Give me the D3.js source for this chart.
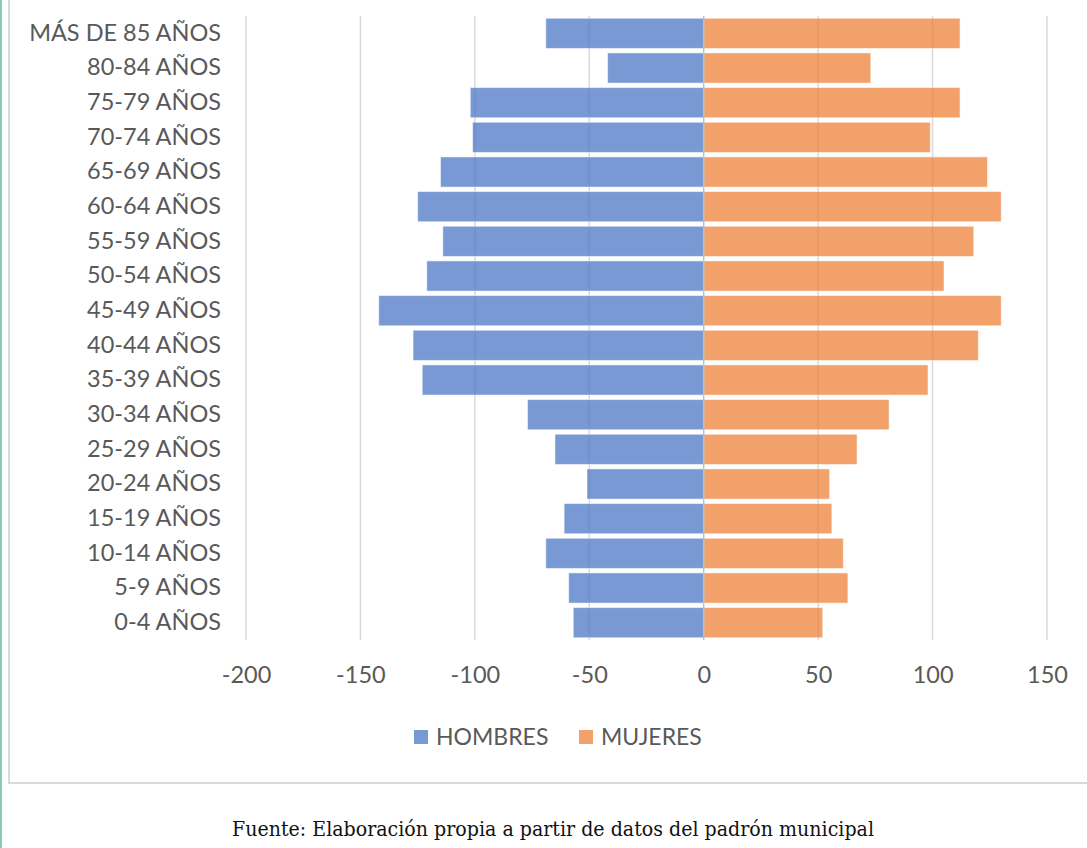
<!DOCTYPE html>
<html>
<head>
<meta charset="utf-8">
<script src="https://cdn.jsdelivr.net/npm/d3@7/dist/d3.min.js"></script>
<style>
  html, body { margin: 0; padding: 0; background: #fff; }
  svg { display: block; }
</style>
</head>
<body>
<svg id="chart" width="1087" height="848"></svg>
<script>
const categories = ["MÁS DE 85 AÑOS","80-84 AÑOS","75-79 AÑOS","70-74 AÑOS","65-69 AÑOS","60-64 AÑOS","55-59 AÑOS","50-54 AÑOS","45-49 AÑOS","40-44 AÑOS","35-39 AÑOS","30-34 AÑOS","25-29 AÑOS","20-24 AÑOS","15-19 AÑOS","10-14 AÑOS","5-9 AÑOS","0-4 AÑOS"];
const hombres = [-69, -42, -102, -101, -115, -125, -114, -121, -142, -127, -123, -77, -65, -51, -61, -69, -59, -57];
const mujeres = [112, 73, 112, 99, 124, 130, 118, 105, 130, 120, 98, 81, 67, 55, 56, 61, 63, 52];
const tickValues = [-200, -150, -100, -50, 0, 50, 100, 150];
const seriesNames = ["HOMBRES", "MUJERES"];
const caption = "Fuente: Elaboración propia a partir de datos del padrón municipal";

const colors = { HOMBRES: "#4472C4", MUJERES: "#ED7D31" };
const svg = d3.select("#chart");
const textColor = "#595959";
const font = "Lato, 'Open Sans', sans-serif";

// left teal rule
svg.append("rect").attr("x", 0).attr("y", 0).attr("width", 2).attr("height", 848).attr("fill", "#86cdb0");
// chart frame
svg.append("rect").attr("x", 9).attr("y", -5).attr("width", 1090).attr("height", 788)
  .attr("fill", "none").attr("stroke", "#d9d9d9").attr("stroke-width", 2);

const x = d3.scaleLinear().domain([-200, 150]).range([246, 1047]);
const y = d3.scaleBand().domain(categories).range([16, 640]).paddingInner(0.13).paddingOuter(0.065);

// gridlines
svg.append("g").selectAll("line").data(tickValues.filter(d => d !== 0)).join("line")
  .attr("x1", d => x(d)).attr("x2", d => x(d)).attr("y1", 16).attr("y2", 640)
  .attr("stroke", "#d9d9d9").attr("stroke-width", 1.5);

// bars
const rows = categories.map((c, i) => ({ c, h: hombres[i], m: mujeres[i] }));
svg.append("g").selectAll("rect").data(rows).join("rect")
  .attr("x", d => x(d.h)).attr("width", d => x(0) - x(d.h))
  .attr("y", d => y(d.c)).attr("height", y.bandwidth())
  .attr("fill", colors.HOMBRES).attr("fill-opacity", 0.72)
  .attr("stroke", "#fff").attr("stroke-opacity", 0.5).attr("stroke-width", 1);
svg.append("g").selectAll("rect").data(rows).join("rect")
  .attr("x", x(0)).attr("width", d => x(d.m) - x(0))
  .attr("y", d => y(d.c)).attr("height", y.bandwidth())
  .attr("fill", colors.MUJERES).attr("fill-opacity", 0.72)
  .attr("stroke", "#fff").attr("stroke-opacity", 0.5).attr("stroke-width", 1);

// zero axis line
svg.append("line").attr("x1", x(0)).attr("x2", x(0)).attr("y1", 16).attr("y2", 640)
  .attr("stroke", "#bfbfbf").attr("stroke-width", 1.5);

// category labels
const yAxis = d3.axisLeft(y).tickSize(0).tickPadding(0);
const gy = svg.append("g").attr("transform", "translate(221,-1)").call(yAxis);
gy.select(".domain").remove();
gy.selectAll("text").attr("font-family", font).attr("font-size", 23.5).attr("fill", textColor)
  .attr("dy", "0.35em");

// x tick labels
const xAxis = d3.axisBottom(x).tickValues(tickValues).tickSize(0).tickPadding(0).tickFormat(d3.format("d"));
const gx = svg.append("g").attr("transform", "translate(0,675)").call(xAxis);
gx.select(".domain").remove();
gx.selectAll("text").attr("font-family", font).attr("font-size", 23.5).attr("fill", textColor)
  .attr("dy", "0.35em").text(d => d < 0 ? "-" + Math.abs(d) : d);

// legend
const legendX = [414, 579];
const lg = svg.append("g");
seriesNames.forEach((s, i) => {
  lg.append("rect").attr("x", legendX[i]).attr("y", 730).attr("width", 14).attr("height", 14)
    .attr("fill", colors[s]).attr("fill-opacity", 0.72);
  lg.append("text").attr("x", legendX[i] + 22).attr("y", 737).attr("dy", "0.35em")
    .attr("font-family", font).attr("font-size", 23).attr("fill", textColor).text(s);
});

// caption
svg.append("text").attr("x", 553).attr("y", 829).attr("dy", "0.35em").attr("text-anchor", "middle")
  .attr("font-family", "'DejaVu Serif', 'Liberation Serif', serif").attr("font-size", 20)
  .attr("textLength", 642).attr("lengthAdjust", "spacingAndGlyphs")
  .attr("fill", "#111").text(caption);
</script>
</body>
</html>
